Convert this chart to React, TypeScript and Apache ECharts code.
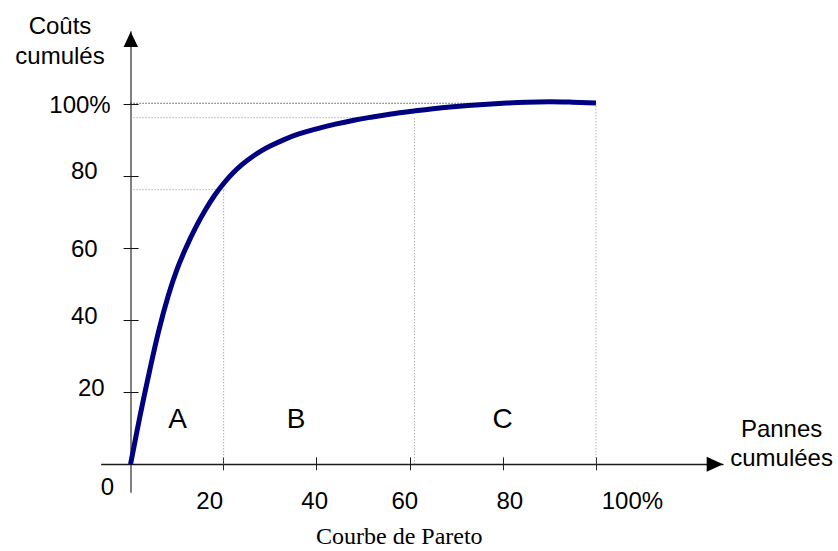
import React, { useEffect, useRef } from "react";
import * as echarts from "echarts";

// ---- data ----
const xTickValues = [20, 40, 60, 80, 100];
const xTickLabels = ["20", "40", "60", "80", "100%"];
const yTickValues = [20, 40, 60, 80, 100];
const yTickLabels = ["20", "40", "60", "80", "100%"];

// cumulative costs (%) vs cumulative failures (%)
const paretoCurve: [number, number][] = [
  [0, 0], [2, 13.2], [4, 25.4], [6, 36.8], [8, 46.4], [10, 54.2], [12, 60.4],
  [14, 65.8], [16, 70.5], [18, 74.6], [20, 78.0], [22, 80.9], [24, 83.3],
  [26, 85.3], [28, 87.0], [30, 88.4], [33, 90.2], [36, 91.7], [40, 93.2],
  [44, 94.5], [48, 95.6], [52, 96.5], [56, 97.3], [60, 98.0], [65, 98.8],
  [70, 99.4], [75, 99.9], [80, 100.3], [85, 100.6], [90, 100.7], [95, 100.6],
  [100, 100.4],
];

// reading guides
const guideA_h: [number, number][] = [[0, 76.3], [20.6, 76.3]];
const guideA_v: [number, number][] = [[20, 0], [20, 76.3]];
const guideB_h: [number, number][] = [[0, 96.3], [49.3, 96.3]];
const guideB_v: [number, number][] = [[61, 0], [61, 96.3]];
const guideTop_h: [number, number][] = [[0, 100.3], [100, 100.3]];
const guideC_v: [number, number][] = [[100, 0], [100, 100.3]];

const zoneLabels = ["A", "B", "C"];

const FONT = "'Liberation Sans', Arial, sans-serif";

export default function App() {
  const ref = useRef<HTMLDivElement>(null);

  useEffect(() => {
    if (!ref.current) return;
    const chart = echarts.init(ref.current, undefined, { renderer: "svg" });

    const xPad: Record<number, number[]> = {
      20: [0, 28, 0, 0],
      40: [0, 4, 0, 0],
      60: [0, 10, 0, 0],
      80: [0, 0, 0, 14],
      100: [0, 0, 0, 73],
    };
    const yPad: Record<number, number[]> = {
      20: [0, 6, 10, 0],
      40: [0, 13, 10, 0],
      60: [0, 13, 0, 0],
      80: [0, 13, 12, 0],
      100: [0, 0, 0, 0],
    };
    const baseTxt = { fontSize: 24, fontFamily: FONT, color: "#000" };
    const xRich: Record<string, any> = {};
    const yRich: Record<string, any> = {};
    xTickValues.forEach((v) => (xRich["x" + v] = { ...baseTxt, padding: xPad[v] }));
    yTickValues.forEach((v) => (yRich["y" + v] = { ...baseTxt, padding: yPad[v] }));

    const dotted = (color: string) => ({
      type: "line",
      showSymbol: false,
      silent: true,
      lineStyle: { color, width: 1, type: [1, 2] },
      z: 2,
    });

    const zoneX = [177.5, 296, 502.5];

    chart.setOption({
      animation: false,
      backgroundColor: "#fff",
      title: {
        text: "Courbe de Pareto",
        left: 316,
        top: 524,
        padding: 0,
        textStyle: {
          fontFamily: "'Liberation Serif', 'Times New Roman', serif",
          fontSize: 24,
          fontWeight: "normal",
          color: "#000",
        },
      },
      grid: { left: 101.7, right: 115, top: 32, bottom: 59, containLabel: false },
      xAxis: [
        {
          type: "value",
          min: -6.2,
          max: 127.3,
          position: "bottom",
          splitLine: { show: false },
          axisLine: { show: true, onZero: true, lineStyle: { color: "#1a1a1a", width: 1.3 } },
          axisTick: { show: true, customValues: xTickValues, length: 6, lineStyle: { color: "#222", width: 1 } },
          axisLabel: {
            show: true,
            customValues: xTickValues,
            margin: -4,
            ...baseTxt,
            formatter: (v: number) => {
              const i = xTickValues.indexOf(v);
              return i >= 0 ? `{x${v}|${xTickLabels[i]}}` : "";
            },
            rich: xRich,
          },
        },
        {
          type: "value",
          min: -6.2,
          max: 127.3,
          position: "bottom",
          splitLine: { show: false },
          axisLine: { show: false, onZero: true },
          axisTick: { show: true, inside: true, customValues: xTickValues, length: 7, lineStyle: { color: "#222", width: 1 } },
          axisLabel: { show: false },
        },
      ],
      yAxis: [
        {
          type: "value",
          min: -7.7,
          max: 120.1,
          position: "left",
          splitLine: { show: false },
          axisLine: { show: true, onZero: true, lineStyle: { color: "#808080", width: 2 } },
          axisTick: { show: true, customValues: yTickValues, length: 7, lineStyle: { color: "#111", width: 1 } },
          axisLabel: {
            show: true,
            customValues: yTickValues,
            margin: -9,
            ...baseTxt,
            formatter: (v: number) => {
              const i = yTickValues.indexOf(v);
              return i >= 0 ? `{y${v}|${yTickLabels[i]}}` : "";
            },
            rich: yRich,
          },
        },
        {
          type: "value",
          min: -7.7,
          max: 120.1,
          position: "left",
          splitLine: { show: false },
          axisLine: { show: false, onZero: true },
          axisTick: { show: true, inside: true, customValues: yTickValues, length: 8, lineStyle: { color: "#111", width: 1 } },
          axisLabel: { show: false },
        },
      ],
      series: [
        { ...dotted("#8c8c8c"), data: guideA_h },
        { ...dotted("#8c8c8c"), data: guideA_v },
        { ...dotted("#8c8c8c"), data: guideB_h },
        { ...dotted("#8c8c8c"), data: guideB_v },
        { ...dotted("#000000"), data: guideTop_h },
        { ...dotted("#8c8c8c"), data: guideC_v },
        {
          type: "line",
          data: paretoCurve,
          smooth: 0.4,
          showSymbol: false,
          silent: true,
          lineStyle: { color: "#000080", width: 5 },
          z: 5,
        },
      ],
      graphic: [
        {
          type: "polygon",
          shape: { points: [[706.7, 456.8], [723, 464.3], [706.7, 471.8]] },
          style: { fill: "#000" },
          z: 10,
        },
        {
          type: "polygon",
          shape: { points: [[123.6, 47], [130.7, 31.7], [138, 47]] },
          style: { fill: "#000" },
          z: 10,
        },
        {
          type: "text",
          x: 107.5,
          y: 486,
          style: { text: "0", fill: "#000", font: `24px ${FONT}`, textAlign: "center", textVerticalAlign: "middle" },
        },
        {
          type: "text",
          x: 60,
          y: 10,
          style: {
            text: "Coûts\ncumulés",
            font: `24px ${FONT}`,
            fill: "#000",
            lineHeight: 30,
            textAlign: "center",
            textVerticalAlign: "top",
          },
        },
        {
          type: "text",
          x: 781.6,
          y: 414,
          style: {
            text: "Pannes\ncumulées",
            font: `24px ${FONT}`,
            fill: "#000",
            lineHeight: 29,
            textAlign: "center",
            textVerticalAlign: "top",
          },
        },
        ...zoneLabels.map((t, i) => ({
          type: "text",
          x: zoneX[i],
          y: 418,
          style: {
            text: t,
            font: `28px ${FONT}`,
            fill: "#000",
            textAlign: "center",
            textVerticalAlign: "middle",
          },
        })),
      ],
    });

    return () => chart.dispose();
  }, []);

  return (
    <div
      ref={ref}
      style={{ position: "fixed", left: 0, top: 0, width: 838, height: 551 }}
    />
  );
}
